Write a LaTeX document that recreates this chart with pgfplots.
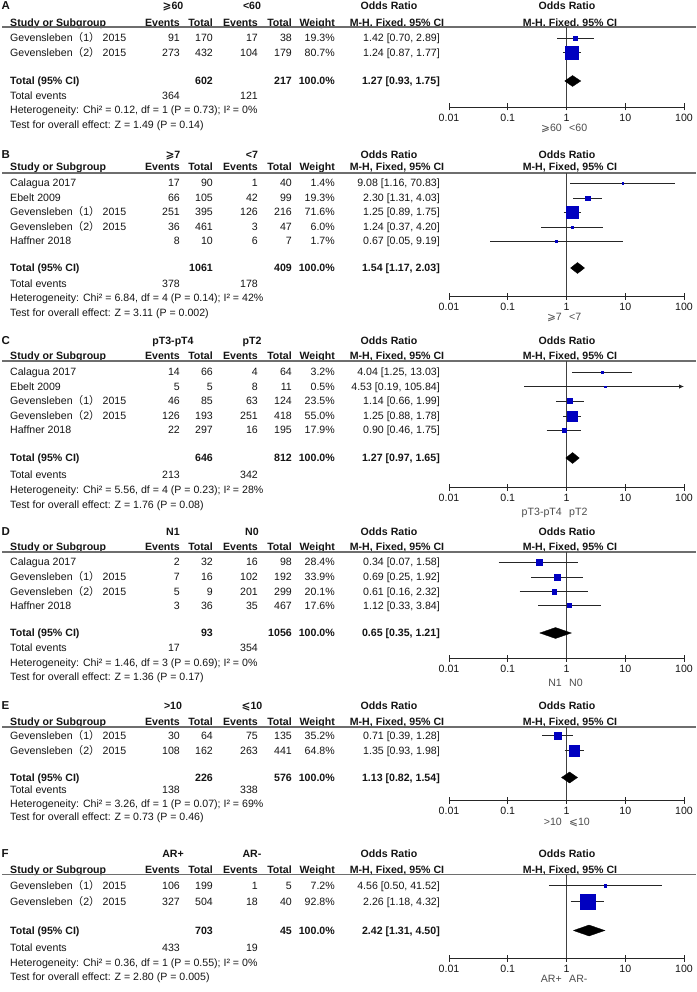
\documentclass[border=0pt]{standalone}
\usepackage{fontspec}
\setmainfont{Liberation Sans}
\newfontfamily\cjk{Noto Sans CJK SC}
\newfontfamily\symf{DejaVu Sans}
\usepackage{pgfplots}
\pgfplotsset{compat=1.18}
\usetikzlibrary{arrows.meta}
\definecolor{sqblue}{RGB}{0,0,192}
\definecolor{hgray}{RGB}{110,110,110}
\definecolor{txt}{RGB}{20,20,20}
\newcommand\fs{\fontsize{10.6}{12}\selectfont}
\newcommand\fb{\fontsize{10.6}{12}\selectfont\bfseries}
\newcommand\GA{Gevensleben{\cjk （}1{\cjk ）} 2015}
\newcommand\GB{Gevensleben{\cjk （}2{\cjk ）} 2015}
\newcommand\gsym{{\symf ⩾}}
\newcommand\lsym{{\symf ⩽}}
\tikzset{
  txs/.style={inner sep=0pt, text=txt, yshift=-3.8pt, font=\fs},
  tl/.style={txs, anchor=base west}, tr/.style={txs, anchor=base east}, tc/.style={txs, anchor=base},
  bl/.style={tl, font=\fb}, br/.style={tr, font=\fb}, bc/.style={tc, font=\fb},
  cil/.style={black!85, line width=0.8pt},
  vl/.style={black!75, line width=0.9pt},
  dia/.style={fill=black, draw=black, line width=0.3pt},
}
\newcommand\srow[8]{%
  \node[tl] at (10pt,-#1pt) {#2};
  \node[tr] at (180pt,-#1pt) {#3};
  \node[tr] at (213pt,-#1pt) {#4};
  \node[tr] at (258pt,-#1pt) {#5};
  \node[tr] at (292pt,-#1pt) {#6};
  \node[tr] at (335pt,-#1pt) {#7};
  \node[tr] at (440pt,-#1pt) {#8};}
\newcommand\hdr[5]{%
  \node[bl, font=\fontsize{11.5}{12}\selectfont\bfseries] at (1.5pt,-#1pt) {#3};
  \node[bc] at (173pt,-#1pt) {#4};
  \node[bc] at (252pt,-#1pt) {#5};
  \node[bc] at (389pt,-#1pt) {Odds Ratio};
  \node[bc] at (567pt,-#1pt) {Odds Ratio};
  \node[bl] at (10pt,-#2pt) {Study or Subgroup};
  \node[br] at (180pt,-#2pt) {Events};
  \node[br] at (213pt,-#2pt) {Total};
  \node[br] at (258pt,-#2pt) {Events};
  \node[br] at (292pt,-#2pt) {Total};
  \node[br] at (335pt,-#2pt) {Weight};
  \node[bc] at (397pt,-#2pt) {M-H, Fixed, 95\% CI};
  \node[bc] at (570pt,-#2pt) {M-H, Fixed, 95\% CI};}
\newcommand\hsep[1]{\draw[hgray, line width=1.2pt] (2pt,-#1pt) -- (696pt,-#1pt);}
\newcommand\totrow[4]{%
  \node[bl] at (10pt,-#1pt) {Total (95\% CI)};
  \node[br] at (213pt,-#1pt) {#2};
  \node[br] at (292pt,-#1pt) {#3};
  \node[br] at (335pt,-#1pt) {100.0\%};
  \node[br] at (440pt,-#1pt) {#4};}
\newcommand\footrows[7]{%
  \node[tl] at (10pt,-#1pt) {Total events};
  \node[tr] at (180pt,-#1pt) {#2};
  \node[tr] at (258pt,-#1pt) {#3};
  \node[tl] at (10pt,-#4pt) {#5};
  \node[tl] at (10pt,-#6pt) {#7};}
\newcommand\grp[3]{%
  \node[tr, text=black!70] at (562pt,-#1pt) {#2};
  \node[tl, text=black!70] at (569pt,-#1pt) {#3};}
\newcommand\ci[3]{\addplot[cil, mark=none] coordinates {(#1,-#3) (#2,-#3)};}
\newcommand\sqs{\addplot[scatter, only marks, mark=square*,
    scatter/use mapped color={draw=sqblue, fill=sqblue},
    visualization depends on={\thisrow{w}\as\wt},
    scatter/@pre marker code/.append style={/tikz/mark size=0.75+0.0725*\wt},
    mark options={line width=0.3pt}] table[x=or, y=y, meta=w]}
\begin{document}
\begin{tikzpicture}
\useasboundingbox (0,0) rectangle (696pt,-992pt);
% ---------------- A
\hdr{6}{22.5}{A}{\gsym60}{<60}
\hsep{27}
\srow{38}{\GA}{91}{170}{17}{38}{19.3\%}{1.42 [0.70, 2.89]}
\srow{52.5}{\GB}{273}{432}{104}{179}{80.7\%}{1.24 [0.87, 1.77]}
\totrow{81}{602}{217}{1.27 [0.93, 1.75]}
\footrows{96}{364}{121}{110}{Heterogeneity: Chi² = 0.12, df = 1 (P = 0.73); I² = 0\%}{125}{Test for overall effect: Z = 1.49 (P = 0.14)}
\grp{128}{\gsym60}{<60}
\begin{axis}[scale only axis, width=235pt, xmode=log, xmin=0.01, xmax=100,
    axis x line=bottom, axis y line=none, x axis line style={-},
    axis line style={black!85, line width=0.9pt},
    xtick={0.01,0.1,1,10,100}, xticklabels={0.01,0.1,1,10,100}, xminorticks=false,
    tick align=center, major tick length=7pt,
    major tick style={black!85, line width=0.9pt},
    xticklabel style={font=\fs, text=txt},
    clip=false, anchor=south west,
    at={(449pt,-107pt)}, height=80pt, ymin=-107, ymax=-27]
\addplot[vl, mark=none] coordinates {(1,-107) (1,-27)};
\ci{0.70}{2.89}{38}
\ci{0.87}{1.77}{52.5}
\sqs {
or y w
1.42 -38 19.3
1.24 -52.5 80.7
};
\addplot[dia, mark=none] coordinates {(0.93,-81) (1.27,-75.5) (1.75,-81) (1.27,-86.5) (0.93,-81)};
\end{axis}
% ---------------- B
\hdr{155}{167}{B}{\gsym7}{<7}
\hsep{173}
\srow{183}{Calagua 2017}{17}{90}{1}{40}{1.4\%}{9.08 [1.16, 70.83]}
\srow{198}{Ebelt 2009}{66}{105}{42}{99}{19.3\%}{2.30 [1.31, 4.03]}
\srow{212}{\GA}{251}{395}{126}{216}{71.6\%}{1.25 [0.89, 1.75]}
\srow{227}{\GB}{36}{461}{3}{47}{6.0\%}{1.24 [0.37, 4.20]}
\srow{241}{Haffner 2018}{8}{10}{6}{7}{1.7\%}{0.67 [0.05, 9.19]}
\totrow{268}{1061}{409}{1.54 [1.17, 2.03]}
\footrows{284}{378}{178}{298}{Heterogeneity: Chi² = 6.84, df = 4 (P = 0.14); I² = 42\%}{313}{Test for overall effect: Z = 3.11 (P = 0.002)}
\grp{317}{\gsym7}{<7}
\begin{axis}[scale only axis, width=235pt, xmode=log, xmin=0.01, xmax=100,
    axis x line=bottom, axis y line=none, x axis line style={-},
    axis line style={black!85, line width=0.9pt},
    xtick={0.01,0.1,1,10,100}, xticklabels={0.01,0.1,1,10,100}, xminorticks=false,
    tick align=center, major tick length=7pt,
    major tick style={black!85, line width=0.9pt},
    xticklabel style={font=\fs, text=txt},
    clip=false, anchor=south west,
    at={(449pt,-296pt)}, height=123pt, ymin=-296, ymax=-173]
\addplot[vl, mark=none] coordinates {(1,-296) (1,-173)};
\ci{1.16}{70.83}{183}
\ci{1.31}{4.03}{198}
\ci{0.89}{1.75}{212}
\ci{0.37}{4.20}{227}
\ci{0.05}{9.19}{241}
\sqs {
or y w
9.08 -183 1.4
2.30 -198 19.3
1.25 -212 71.6
1.24 -227 6.0
0.67 -241 1.7
};
\addplot[dia, mark=none] coordinates {(1.17,-268) (1.54,-262.5) (2.03,-268) (1.54,-273.5) (1.17,-268)};
\end{axis}
% ---------------- C
\hdr{341}{356}{C}{pT3-pT4}{pT2}
\hsep{361}
\srow{372}{Calagua 2017}{14}{66}{4}{64}{3.2\%}{4.04 [1.25, 13.03]}
\srow{386.5}{Ebelt 2009}{5}{5}{8}{11}{0.5\%}{4.53 [0.19, 105.84]}
\srow{401}{\GA}{46}{85}{63}{124}{23.5\%}{1.14 [0.66, 1.99]}
\srow{416}{\GB}{126}{193}{251}{418}{55.0\%}{1.25 [0.88, 1.78]}
\srow{430}{Haffner 2018}{22}{297}{16}{195}{17.9\%}{0.90 [0.46, 1.75]}
\totrow{458}{646}{812}{1.27 [0.97, 1.65]}
\footrows{474.5}{213}{342}{489.5}{Heterogeneity: Chi² = 5.56, df = 4 (P = 0.23); I² = 28\%}{504.5}{Test for overall effect: Z = 1.76 (P = 0.08)}
\grp{512}{pT3-pT4}{pT2}
\begin{axis}[scale only axis, width=235pt, xmode=log, xmin=0.01, xmax=100,
    axis x line=bottom, axis y line=none, x axis line style={-},
    axis line style={black!85, line width=0.9pt},
    xtick={0.01,0.1,1,10,100}, xticklabels={0.01,0.1,1,10,100}, xminorticks=false,
    tick align=center, major tick length=7pt,
    major tick style={black!85, line width=0.9pt},
    xticklabel style={font=\fs, text=txt},
    clip=false, anchor=south west,
    at={(449pt,-487pt)}, height=126pt, ymin=-487, ymax=-361]
\addplot[vl, mark=none] coordinates {(1,-487) (1,-361)};
\ci{1.25}{13.03}{372}
\addplot[cil, mark=none, -{Latex[length=5pt,width=4.5pt]}] coordinates {(0.19,-386.5) (100,-386.5)};
\ci{0.66}{1.99}{401}
\ci{0.88}{1.78}{416}
\ci{0.46}{1.75}{430}
\sqs {
or y w
4.04 -372 3.2
4.53 -386.5 0.5
1.14 -401 23.5
1.25 -416 55.0
0.90 -430 17.9
};
\addplot[dia, mark=none] coordinates {(0.97,-458) (1.27,-452.5) (1.65,-458) (1.27,-463.5) (0.97,-458)};
\end{axis}
% ---------------- D
\hdr{532}{547}{D}{N1}{N0}
\hsep{552}
\srow{562}{Calagua 2017}{2}{32}{16}{98}{28.4\%}{0.34 [0.07, 1.58]}
\srow{577}{\GA}{7}{16}{102}{192}{33.9\%}{0.69 [0.25, 1.92]}
\srow{591.5}{\GB}{5}{9}{201}{299}{20.1\%}{0.61 [0.16, 2.32]}
\srow{605.5}{Haffner 2018}{3}{36}{35}{467}{17.6\%}{1.12 [0.33, 3.84]}
\totrow{633}{93}{1056}{0.65 [0.35, 1.21]}
\footrows{648}{17}{354}{662.5}{Heterogeneity: Chi² = 1.46, df = 3 (P = 0.69); I² = 0\%}{676.5}{Test for overall effect: Z = 1.36 (P = 0.17)}
\grp{683}{N1}{N0}
\begin{axis}[scale only axis, width=235pt, xmode=log, xmin=0.01, xmax=100,
    axis x line=bottom, axis y line=none, x axis line style={-},
    axis line style={black!85, line width=0.9pt},
    xtick={0.01,0.1,1,10,100}, xticklabels={0.01,0.1,1,10,100}, xminorticks=false,
    tick align=center, major tick length=7pt,
    major tick style={black!85, line width=0.9pt},
    xticklabel style={font=\fs, text=txt},
    clip=false, anchor=south west,
    at={(449pt,-658pt)}, height=106pt, ymin=-658, ymax=-552]
\addplot[vl, mark=none] coordinates {(1,-658) (1,-552)};
\ci{0.07}{1.58}{562}
\ci{0.25}{1.92}{577}
\ci{0.16}{2.32}{591.5}
\ci{0.33}{3.84}{605.5}
\sqs {
or y w
0.34 -562 28.4
0.69 -577 33.9
0.61 -591.5 20.1
1.12 -605.5 17.6
};
\addplot[dia, mark=none] coordinates {(0.35,-633) (0.65,-627.5) (1.21,-633) (0.65,-638.5) (0.35,-633)};
\end{axis}
% ---------------- E
\hdr{706}{722}{E}{>10}{\lsym10}
\hsep{727}
\srow{735.5}{\GA}{30}{64}{75}{135}{35.2\%}{0.71 [0.39, 1.28]}
\srow{750.5}{\GB}{108}{162}{263}{441}{64.8\%}{1.35 [0.93, 1.98]}
\totrow{777.5}{226}{576}{1.13 [0.82, 1.54]}
\footrows{790}{138}{338}{803.5}{Heterogeneity: Chi² = 3.26, df = 1 (P = 0.07); I² = 69\%}{817}{Test for overall effect: Z = 0.73 (P = 0.46)}
\grp{822}{>10}{\lsym10}
\begin{axis}[scale only axis, width=235pt, xmode=log, xmin=0.01, xmax=100,
    axis x line=bottom, axis y line=none, x axis line style={-},
    axis line style={black!85, line width=0.9pt},
    xtick={0.01,0.1,1,10,100}, xticklabels={0.01,0.1,1,10,100}, xminorticks=false,
    tick align=center, major tick length=7pt,
    major tick style={black!85, line width=0.9pt},
    xticklabel style={font=\fs, text=txt},
    clip=false, anchor=south west,
    at={(449pt,-800pt)}, height=73pt, ymin=-800, ymax=-727]
\addplot[vl, mark=none] coordinates {(1,-800) (1,-727)};
\ci{0.39}{1.28}{735.5}
\ci{0.93}{1.98}{750.5}
\sqs {
or y w
0.71 -735.5 35.2
1.35 -750.5 64.8
};
\addplot[dia, mark=none] coordinates {(0.82,-777.5) (1.13,-772) (1.54,-777.5) (1.13,-783) (0.82,-777.5)};
\end{axis}
% ---------------- F
\hdr{854}{870}{F}{AR+}{AR-}
\hsep{874.5}
\srow{885.5}{\GA}{106}{199}{1}{5}{7.2\%}{4.56 [0.50, 41.52]}
\srow{901.5}{\GB}{327}{504}{18}{40}{92.8\%}{2.26 [1.18, 4.32]}
\totrow{930.5}{703}{45}{2.42 [1.31, 4.50]}
\footrows{948}{433}{19}{963}{Heterogeneity: Chi² = 0.36, df = 1 (P = 0.55); I² = 0\%}{977}{Test for overall effect: Z = 2.80 (P = 0.005)}
\grp{979}{AR+}{AR-}
\begin{axis}[scale only axis, width=235pt, xmode=log, xmin=0.01, xmax=100,
    axis x line=bottom, axis y line=none, x axis line style={-},
    axis line style={black!85, line width=0.9pt},
    xtick={0.01,0.1,1,10,100}, xticklabels={0.01,0.1,1,10,100}, xminorticks=false,
    tick align=center, major tick length=7pt,
    major tick style={black!85, line width=0.9pt},
    xticklabel style={font=\fs, text=txt},
    clip=false, anchor=south west,
    at={(449pt,-958pt)}, height=83.5pt, ymin=-958, ymax=-874.5]
\addplot[vl, mark=none] coordinates {(1,-958) (1,-874.5)};
\ci{0.50}{41.52}{885.5}
\ci{1.18}{4.32}{901.5}
\sqs {
or y w
4.56 -885.5 7.2
2.26 -901.5 92.8
};
\addplot[dia, mark=none] coordinates {(1.31,-930.5) (2.42,-925) (4.50,-930.5) (2.42,-936) (1.31,-930.5)};
\end{axis}
\end{tikzpicture}
\end{document}
